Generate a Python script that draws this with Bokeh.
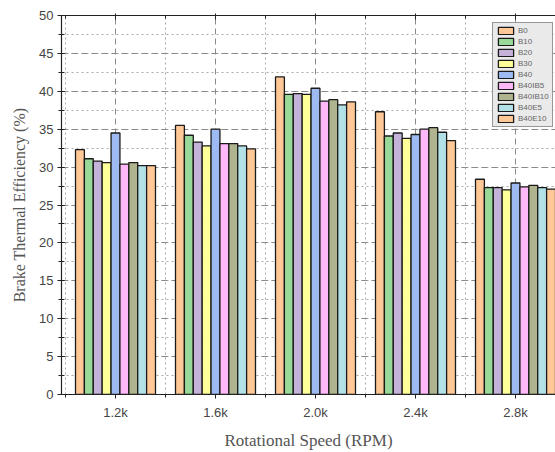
from bokeh.plotting import figure
from bokeh.models import (ColumnDataSource, FixedTicker, LinearAxis, Range1d,
                          Legend, LegendItem, SingleIntervalTicker)
from bokeh.embed import file_html
from bokeh.resources import INLINE

# ---- data ----
speeds = [1200, 1600, 2000, 2400, 2800]
speed_labels = ["1.2k", "1.6k", "2.0k", "2.4k", "2.8k"]
minor_speeds = [1000, 1400, 1800, 2200, 2600, 3000]
fuels = ["B0", "B10", "B20", "B30", "B40", "B40IB5", "B40IB10", "B40E5", "B40E10"]
colors = ["#FFC896", "#98D898", "#C4B2D8", "#FFFF99", "#9DBBF2",
          "#FFB8F8", "#B0B48E", "#B2E2E8", "#FFC896"]
bte = {
    "B0":      [32.3, 35.5, 41.9, 37.3, 28.4],
    "B10":     [31.1, 34.2, 39.6, 34.1, 27.3],
    "B20":     [30.8, 33.3, 39.7, 34.5, 27.3],
    "B30":     [30.6, 32.8, 39.6, 33.8, 27.0],
    "B40":     [34.5, 35.0, 40.4, 34.3, 27.9],
    "B40IB5":  [30.4, 33.1, 38.7, 35.0, 27.4],
    "B40IB10": [30.6, 33.1, 38.9, 35.2, 27.6],
    "B40E5":   [30.2, 32.8, 38.2, 34.6, 27.3],
    "B40E10":  [30.2, 32.4, 38.6, 33.5, 27.1],
}

spacing = 400.0
group_frac = 0.8
n = len(fuels)
bar_w = spacing * group_frac / n

p = figure(width=555, height=452, output_backend="svg", toolbar_location=None,
           x_range=Range1d(984, 2960), y_range=Range1d(0, 50),
           min_border_left=61, min_border_right=0, min_border_top=15,
           min_border_bottom=57)
p.outline_line_color = None
p.background_fill_color = "white"
p.border_fill_color = "white"

items = []
for i, f in enumerate(fuels):
    off = (i - (n - 1) / 2) * bar_w
    src = ColumnDataSource(dict(x=[s + off for s in speeds], top=bte[f]))
    r = p.vbar(x="x", top="top", width=bar_w, bottom=0, source=src,
               fill_color=colors[i], line_color="#1a1a1a", line_width=1.3)
    items.append(LegendItem(label=f, renderers=[r]))

# axes
xt = FixedTicker(ticks=speeds, minor_ticks=minor_speeds)
p.xaxis.ticker = xt
p.xaxis.major_label_overrides = {s: l for s, l in zip(speeds, speed_labels)}
yt = SingleIntervalTicker(interval=5, num_minor_ticks=2)
p.yaxis.ticker = yt

for ax in (p.xaxis[0], p.yaxis[0]):
    ax.axis_line_color = "#222222"
    ax.axis_line_width = 1.2
    ax.major_tick_line_color = "#222222"
    ax.minor_tick_line_color = "#222222"
    ax.major_tick_out = 4
    ax.major_tick_in = 0
    ax.minor_tick_out = 3
    ax.minor_tick_in = 0
    ax.major_label_text_font = "Liberation Sans"
    ax.major_label_text_font_size = "13px"
    ax.major_label_text_color = "#444444"
    ax.axis_label_text_font = "Liberation Serif"
    ax.axis_label_text_font_style = "normal"
    ax.axis_label_text_color = "#555555"

p.xaxis.axis_label_text_font_size = "17px"
p.yaxis.axis_label_text_font_size = "16px"
p.yaxis.major_tick_in = 3
p.yaxis.minor_tick_in = 3
p.xaxis.axis_label = "Rotational Speed (RPM)"
p.yaxis.axis_label = "Brake Thermal Efficiency (%)"
p.xaxis.major_label_standoff = 6
p.xaxis.axis_label_standoff = 8
p.yaxis.major_label_standoff = 4
p.yaxis.axis_label_standoff = 8

top_ax = LinearAxis(ticker=FixedTicker(ticks=speeds, minor_ticks=minor_speeds),
                    axis_line_color="#222222", axis_line_width=1.2,
                    major_tick_in=4, major_tick_out=2, minor_tick_in=3, minor_tick_out=0,
                    major_tick_line_color="#222222", minor_tick_line_color="#222222",
                    major_label_standoff=0)
top_ax.major_label_overrides = {s: "" for s in speeds}
p.add_layout(top_ax, "above")

# grids
p.xgrid.ticker = xt
p.xgrid.grid_line_color = "#8a8a8a"
p.xgrid.grid_line_dash = "6 4"
p.xgrid.grid_line_width = 1
p.xgrid.minor_grid_line_color = "#a8a8a8"
p.xgrid.minor_grid_line_dash = "2 3"
p.ygrid.grid_line_color = "#8a8a8a"
p.ygrid.grid_line_dash = "6 4"
p.ygrid.minor_grid_line_color = "#a8a8a8"
p.ygrid.minor_grid_line_dash = "2 3"

legend = Legend(items=items, location=(431, 267))
legend.label_text_font = "Liberation Sans"
legend.label_text_font_size = "8px"
legend.label_text_color = "#666666"
legend.label_height = 9
legend.glyph_height = 9
legend.glyph_width = 19
legend.spacing = 2
legend.padding = 3
legend.margin = 0
legend.label_standoff = 3
legend.background_fill_color = "#eaeaea"
legend.background_fill_alpha = 1
legend.border_line_color = "#444444"
legend.border_line_width = 1.5
p.add_layout(legend)

open("out.html", "w").write(file_html(p, INLINE))
